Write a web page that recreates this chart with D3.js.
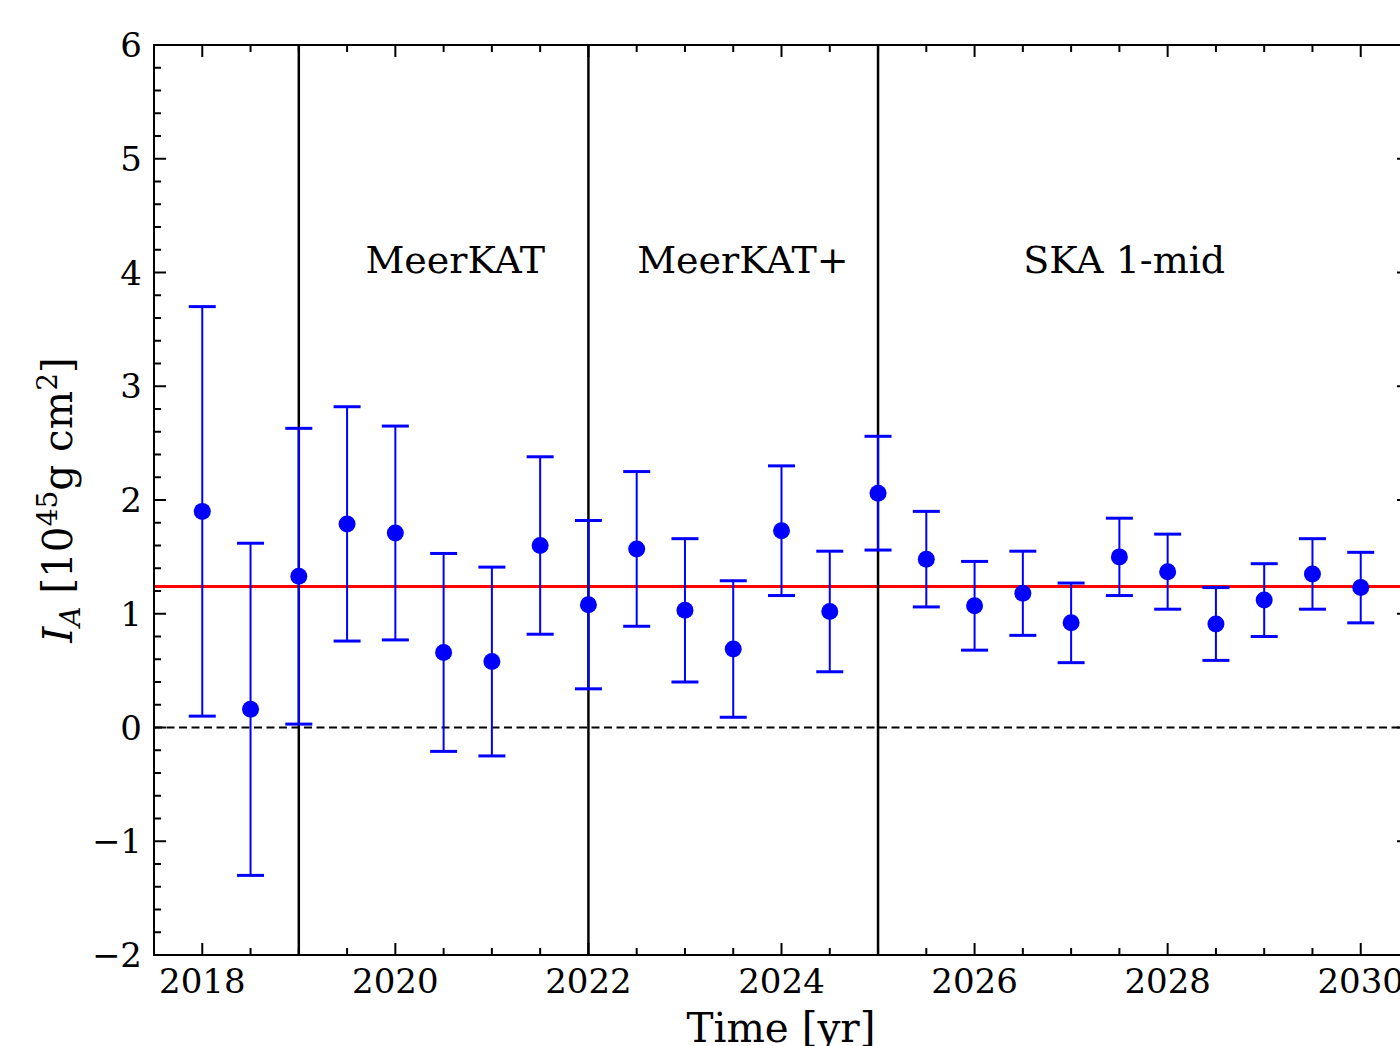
<!DOCTYPE html>
<html><head><meta charset="utf-8">
<script src="https://cdn.jsdelivr.net/npm/d3@7"></script>
<style>html,body{margin:0;padding:0;background:#fff;overflow:hidden}</style>
</head><body>
<svg id="c" width="1400" height="1046"></svg>
<script>
const years = [2018,2018.5,2019,2019.5,2020,2020.5,2021,2021.5,2022,2022.5,2023,2023.5,2024,2024.5,2025,2025.5,2026,2026.5,2027,2027.5,2028,2028.5,2029,2029.5,2030];
const values = [1.90,0.16,1.33,1.79,1.71,0.66,0.58,1.60,1.08,1.57,1.03,0.69,1.73,1.02,2.06,1.48,1.07,1.18,0.92,1.50,1.37,0.91,1.12,1.35,1.23];
const errors = [1.80,1.46,1.30,1.03,0.94,0.87,0.83,0.78,0.74,0.68,0.63,0.60,0.57,0.53,0.50,0.42,0.39,0.37,0.35,0.34,0.33,0.32,0.32,0.31,0.31];
const boundaries = [2019,2022,2025];
const eraLabels = ["MeerKAT","MeerKAT+","SKA 1-mid"];
const eraCenters = [2020.62,2023.6,2027.55];
const meanValue = 1.24;
const xTicks = [2018,2020,2022,2024,2026,2028,2030];
const yTicks = [-2,-1,0,1,2,3,4,5,6];

const svg = d3.select("#c");
const L=154, R=1409, T=45, B=955;
const x = d3.scaleLinear().domain([2017.5,2030.5]).range([L,R]);
const y = d3.scaleLinear().domain([-2,6]).range([B,T]);
const font = "'DejaVu Serif', serif";

// lines
svg.append("line").attr("x1",L).attr("x2",R).attr("y1",y(0)).attr("y2",y(0))
  .attr("stroke","#000").attr("stroke-width",2).attr("stroke-dasharray","8,4.5");
svg.append("line").attr("x1",L).attr("x2",R).attr("y1",y(meanValue)).attr("y2",y(meanValue))
  .attr("stroke","#ff0000").attr("stroke-width",3);
boundaries.forEach(b=>{
  svg.append("line").attr("x1",x(b)).attr("x2",x(b)).attr("y1",T).attr("y2",B)
    .attr("stroke","#000").attr("stroke-width",2.5);
});

// error bars
const g = svg.append("g");
years.forEach((yr,i)=>{
  const v=values[i], e=errors[i], cx=x(yr);
  g.append("line").attr("x1",cx).attr("x2",cx).attr("y1",y(v-e)).attr("y2",y(v+e))
    .attr("stroke","#0000ff").attr("stroke-width",2);
  [v-e,v+e].forEach(c=>g.append("line").attr("x1",cx-13.5).attr("x2",cx+13.5)
    .attr("y1",y(c)).attr("y2",y(c)).attr("stroke","#0000ff").attr("stroke-width",3));
  g.append("circle").attr("cx",cx).attr("cy",y(v)).attr("r",8.5).attr("fill","#0000ff");
});

// ticks (inward, all four sides)
const tk = svg.append("g").attr("stroke","#000").attr("stroke-width",2);
const xMinor = d3.range(2017.5,2030.51,0.5);
xMinor.forEach(t=>{
  const major = xTicks.includes(t);
  const len = major?12:7;
  tk.append("line").attr("x1",x(t)).attr("x2",x(t)).attr("y1",B).attr("y2",B-len);
  tk.append("line").attr("x1",x(t)).attr("x2",x(t)).attr("y1",T).attr("y2",T+len);
});
const yMinor = d3.range(-2,6.001,0.2).map(d=>Math.round(d*10)/10);
yMinor.forEach(t=>{
  const major = Math.abs(t-Math.round(t))<1e-6;
  const len = major?12:7;
  tk.append("line").attr("x1",L).attr("x2",L+len).attr("y1",y(t)).attr("y2",y(t));
  tk.append("line").attr("x1",R).attr("x2",R-len).attr("y1",y(t)).attr("y2",y(t));
});

// frame
svg.append("rect").attr("x",L).attr("y",T).attr("width",R-L).attr("height",B-T)
  .attr("fill","none").attr("stroke","#000").attr("stroke-width",2);

// tick labels
xTicks.forEach(t=>svg.append("text").attr("x",x(t)).attr("y",993).attr("text-anchor","middle")
  .attr("font-family",font).attr("font-size",34).text(t));
yTicks.forEach(t=>svg.append("text").attr("x",142).attr("y",y(t)+12).attr("text-anchor","end")
  .attr("font-family",font).attr("font-size",34).text(t<0?"\u2212"+(-t):t));

// era labels
eraLabels.forEach((s,i)=>svg.append("text").attr("x",x(eraCenters[i])).attr("y",273)
  .attr("text-anchor","middle").attr("font-family",font).attr("font-size",38).text(s));

// axis titles
svg.append("text").attr("x",781).attr("y",1042).attr("text-anchor","middle")
  .attr("font-family",font).attr("font-size",40.5).text("Time [yr]");
const yl = svg.append("text").attr("transform","translate(72,500) rotate(-90)")
  .attr("text-anchor","middle").attr("font-family",font).attr("font-size",40.5);
yl.append("tspan").attr("font-style","italic").text("I");
yl.append("tspan").attr("font-style","italic").attr("font-size",28).attr("dy",8).text("A");
yl.append("tspan").attr("dy",-8).text(" [10");
yl.append("tspan").attr("font-size",28).attr("dy",-15).text("45");
yl.append("tspan").attr("dy",15).text("g cm");
yl.append("tspan").attr("font-size",28).attr("dy",-15).text("2");
yl.append("tspan").attr("dy",15).text("]");
</script>
</body></html>
